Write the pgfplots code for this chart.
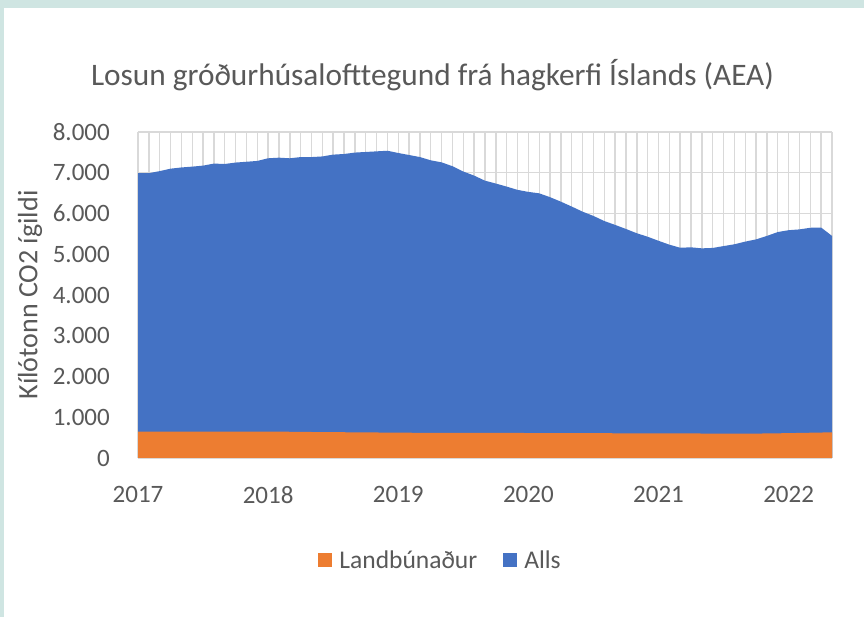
\documentclass[border=0pt]{standalone}
\usepackage{fontspec}
\setmainfont{Carlito}
\usepackage{pgfplots}
\pgfplotsset{compat=1.18}
\definecolor{xlblue}{HTML}{4472C4}
\definecolor{xlorange}{HTML}{ED7D31}
\definecolor{txtgray}{HTML}{595959}
\definecolor{gridgray}{HTML}{D9D9D9}
\definecolor{framecol}{HTML}{CFE5E2}
\pgfplotstableread{
k alls landb
0 6990 650
1 6990 650
2 7040 650
3 7100 650
4 7130 650
5 7150 650
6 7175 650
7 7225 650
8 7215 650
9 7250 650
10 7270 650
11 7290 648
12 7355 646
13 7370 645
14 7355 644
15 7385 640
16 7385 638
17 7400 636
18 7445 634
19 7460 632
20 7495 630
21 7510 628
22 7525 626
23 7540 624
24 7485 622
25 7435 620
26 7385 618
27 7305 617
28 7255 616
29 7160 615
30 7030 615
31 6930 615
32 6805 615
33 6735 615
34 6660 615
35 6580 614
36 6530 613
37 6495 612
38 6400 611
39 6290 610
40 6170 610
41 6045 610
42 5940 609
43 5815 608
44 5720 607
45 5620 606
46 5515 605
47 5430 605
48 5330 604
49 5235 603
50 5160 602
51 5170 602
52 5145 601
53 5155 600
54 5200 600
55 5245 600
56 5310 600
57 5365 600
58 5450 602
59 5545 606
60 5590 610
61 5610 615
62 5650 620
63 5655 625
64 5450 630
}\datatable
\begin{document}
\begin{tikzpicture}[x=1pt,y=1pt]
\path[use as bounding box, fill=framecol] (0,0) rectangle (864,617);
\fill[white] (3.5,0) rectangle (864,609);
\node[text=txtgray, font=\fontsize{31.3}{36}\selectfont] at (432.5,542) {Losun gróðurhúsalofttegund frá hagkerfi Íslands (AEA)};
\node[text=txtgray, rotate=90, font=\fontsize{28}{33}\selectfont] at (30,322) {Kílótonn CO2 ígildi};
\begin{axis}[
  at={(138pt,159pt)}, anchor=south west,
  scale only axis, width=694pt, height=326pt,
  xmin=0, xmax=64, ymin=0, ymax=8000,
  xtick={0,12,24,36,48,60},
  xticklabels={2017,2018,2019,2020,2021,2022},
  minor xtick={0,1,...,64},
  xminorgrids=true, xmajorgrids=false,
  ytick={0,1000,...,8000},
  yticklabels={0,1.000,2.000,3.000,4.000,5.000,6.000,7.000,8.000},
  ymajorgrids=true,
  grid style={gridgray, line width=1.4pt},
  minor grid style={gridgray, line width=1.4pt},
  axis line style={draw=none},
  major tick length=0pt, minor tick length=0pt,
  tick style={draw=none},
  tick label style={text=txtgray, font=\fontsize{25}{30}\selectfont, inner sep=0pt},
  y tick label style={xshift=-28pt},
  x tick label style={yshift=-28pt},
  legend style={at={(0.436,-0.313)}, anchor=center, draw=none, fill=none,
    legend columns=2, font=\fontsize{25.5}{30}\selectfont, text=txtgray,
    /tikz/every odd column/.append style={column sep=5pt},
    /tikz/every even column/.append style={column sep=24pt}},
  legend image code/.code={\fill[#1] (0pt,-7pt) rectangle (14pt,7pt);},
  clip=false,
]
\addplot[fill=xlblue, draw=none, forget plot] table[x=k, y=alls] {\datatable} \closedcycle;
\addplot[fill=xlorange, draw=none] table[x=k, y=landb] {\datatable} \closedcycle;
\addlegendentry{Landbúnaður}
\addlegendimage{fill=xlblue, draw=none}
\addlegendentry{Alls}
\end{axis}
\end{tikzpicture}
\end{document}
